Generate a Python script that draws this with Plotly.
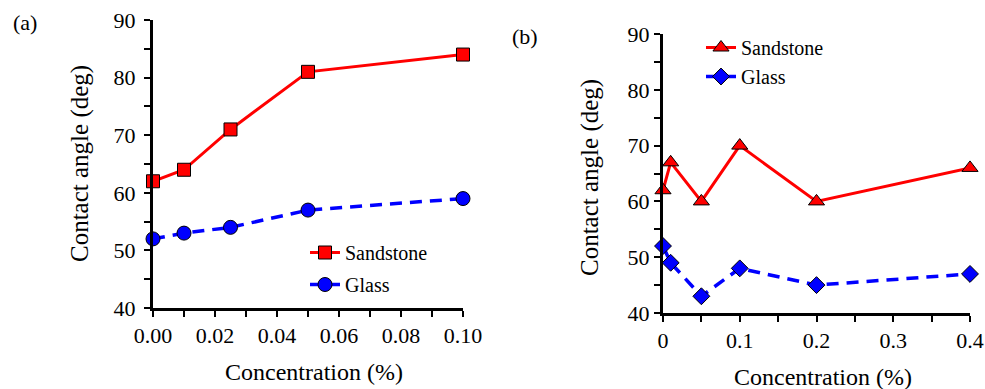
import plotly.graph_objects as go

W, H = 985, 389

# Panel (a)
conc_a = [0, 0.01, 0.025, 0.05, 0.1]
sand_a = [62, 64, 71, 81, 84]
glass_a = [52, 53, 54, 57, 59]

# Panel (b)
conc_b = [0, 0.01, 0.05, 0.1, 0.2, 0.4]
sand_b = [62, 67, 60, 70, 60, 66]
glass_b = [52, 49, 43, 48, 45, 47]

FONT = "'Liberation Serif', 'Times New Roman', Times, 'DejaVu Serif', serif"
RED = "#FF0000"
BLUE = "#0000FF"

def px_x(x):
    return x / W

def px_y(y):
    return 1 - y / H

fig = go.Figure()

mk_line = dict(color="black", width=1)

fig.add_trace(go.Scatter(x=conc_a, y=sand_a, name="Sandstone", mode="lines+markers",
                         line=dict(color=RED, width=3),
                         marker=dict(symbol="square", size=13, color=RED, line=mk_line),
                         xaxis="x", yaxis="y", legend="legend", legendgroup="a1",
                         cliponaxis=False))
fig.add_trace(go.Scatter(x=conc_a, y=glass_a, name="Glass", mode="lines+markers",
                         line=dict(color=BLUE, width=3.5, dash="12px,8px"),
                         marker=dict(symbol="circle", size=14, color=BLUE, line=mk_line),
                         xaxis="x", yaxis="y", legend="legend", legendgroup="a2",
                         cliponaxis=False))
fig.add_trace(go.Scatter(x=conc_b, y=sand_b, name="Sandstone", mode="lines+markers",
                         line=dict(color=RED, width=3),
                         marker=dict(symbol="triangle-up", size=14, color=RED, line=mk_line),
                         xaxis="x2", yaxis="y2", legend="legend2", legendgroup="b1",
                         cliponaxis=False))
fig.add_trace(go.Scatter(x=conc_b, y=glass_b, name="Glass", mode="lines+markers",
                         line=dict(color=BLUE, width=3.5, dash="12px,8px"),
                         marker=dict(symbol="diamond", size=13, color=BLUE, line=mk_line),
                         xaxis="x2", yaxis="y2", legend="legend2", legendgroup="b2",
                         cliponaxis=False))

tickfont = dict(family=FONT, size=22, color="black")

def axis_common(**kw):
    d = dict(showline=True, linecolor="black", linewidth=3, ticks="outside",
             ticklen=6, tickwidth=2, tickcolor="black", showgrid=False,
             zeroline=False, tickfont=tickfont, mirror=False, fixedrange=True,
             automargin=False)
    d.update(kw)
    return d

minor_common = dict(ticks="outside", ticklen=6, tickwidth=2, tickcolor="black", showgrid=False)

fig.update_layout(
    width=W, height=H,
    margin=dict(l=0, r=0, t=0, b=0, autoexpand=False),
    paper_bgcolor="white", plot_bgcolor="white",
    font=dict(family=FONT, color="black"),
    xaxis=axis_common(domain=[px_x(153), px_x(463)], range=[0, 0.1], dtick=0.02,
                      tickformat=".2f", anchor="y",
                      minor=dict(dtick=0.01, **minor_common)),
    yaxis=axis_common(domain=[px_y(308), px_y(20)], range=[40, 90], dtick=10, anchor="x",
                      ticklabelstandoff=4,
                      minor=dict(dtick=5, **minor_common)),
    xaxis2=axis_common(domain=[px_x(663), px_x(970)], range=[0, 0.4],
                       tickvals=[0, 0.1, 0.2, 0.3, 0.4], ticktext=["0", "0.1", "0.2", "0.3", "0.4"],
                       anchor="y2",
                       minor=dict(dtick=0.05, **minor_common)),
    yaxis2=axis_common(domain=[px_y(313), px_y(34)], range=[40, 90], dtick=10, anchor="x2",
                       minor=dict(dtick=5, **minor_common)),
    legend=dict(x=px_x(305), y=px_y(233), xanchor="left", yanchor="top",
                font=dict(family=FONT, size=20, color="black"),
                bgcolor="rgba(0,0,0,0)", tracegroupgap=3, traceorder="grouped"),
    legend2=dict(x=px_x(701), y=px_y(28), xanchor="left", yanchor="top",
                 font=dict(family=FONT, size=20, color="black"),
                 bgcolor="rgba(0,0,0,0)", tracegroupgap=0, traceorder="grouped"),
    showlegend=True,
)

xtitlefont = dict(family=FONT, size=24, color="black")
ytitlefont = dict(family=FONT, size=25, color="black")
ann = [
    dict(text="(a)", x=px_x(25), y=px_y(22), font=dict(family=FONT, size=22, color="black")),
    dict(text="(b)", x=px_x(525), y=px_y(37), font=dict(family=FONT, size=22, color="black")),
    dict(text="Concentration (%)", x=px_x(314), y=px_y(372), font=xtitlefont),
    dict(text="Concentration (%)", x=px_x(823), y=px_y(377), font=xtitlefont),
    dict(text="Contact angle (deg)", x=px_x(80), y=px_y(164), font=ytitlefont, textangle=-90),
    dict(text="Contact angle (deg)", x=px_x(590), y=px_y(178), font=ytitlefont, textangle=-90),
]
for a in ann:
    a.update(xref="paper", yref="paper", showarrow=False, xanchor="center", yanchor="middle")
fig.update_layout(annotations=ann)

fig.write_html("out.html")
